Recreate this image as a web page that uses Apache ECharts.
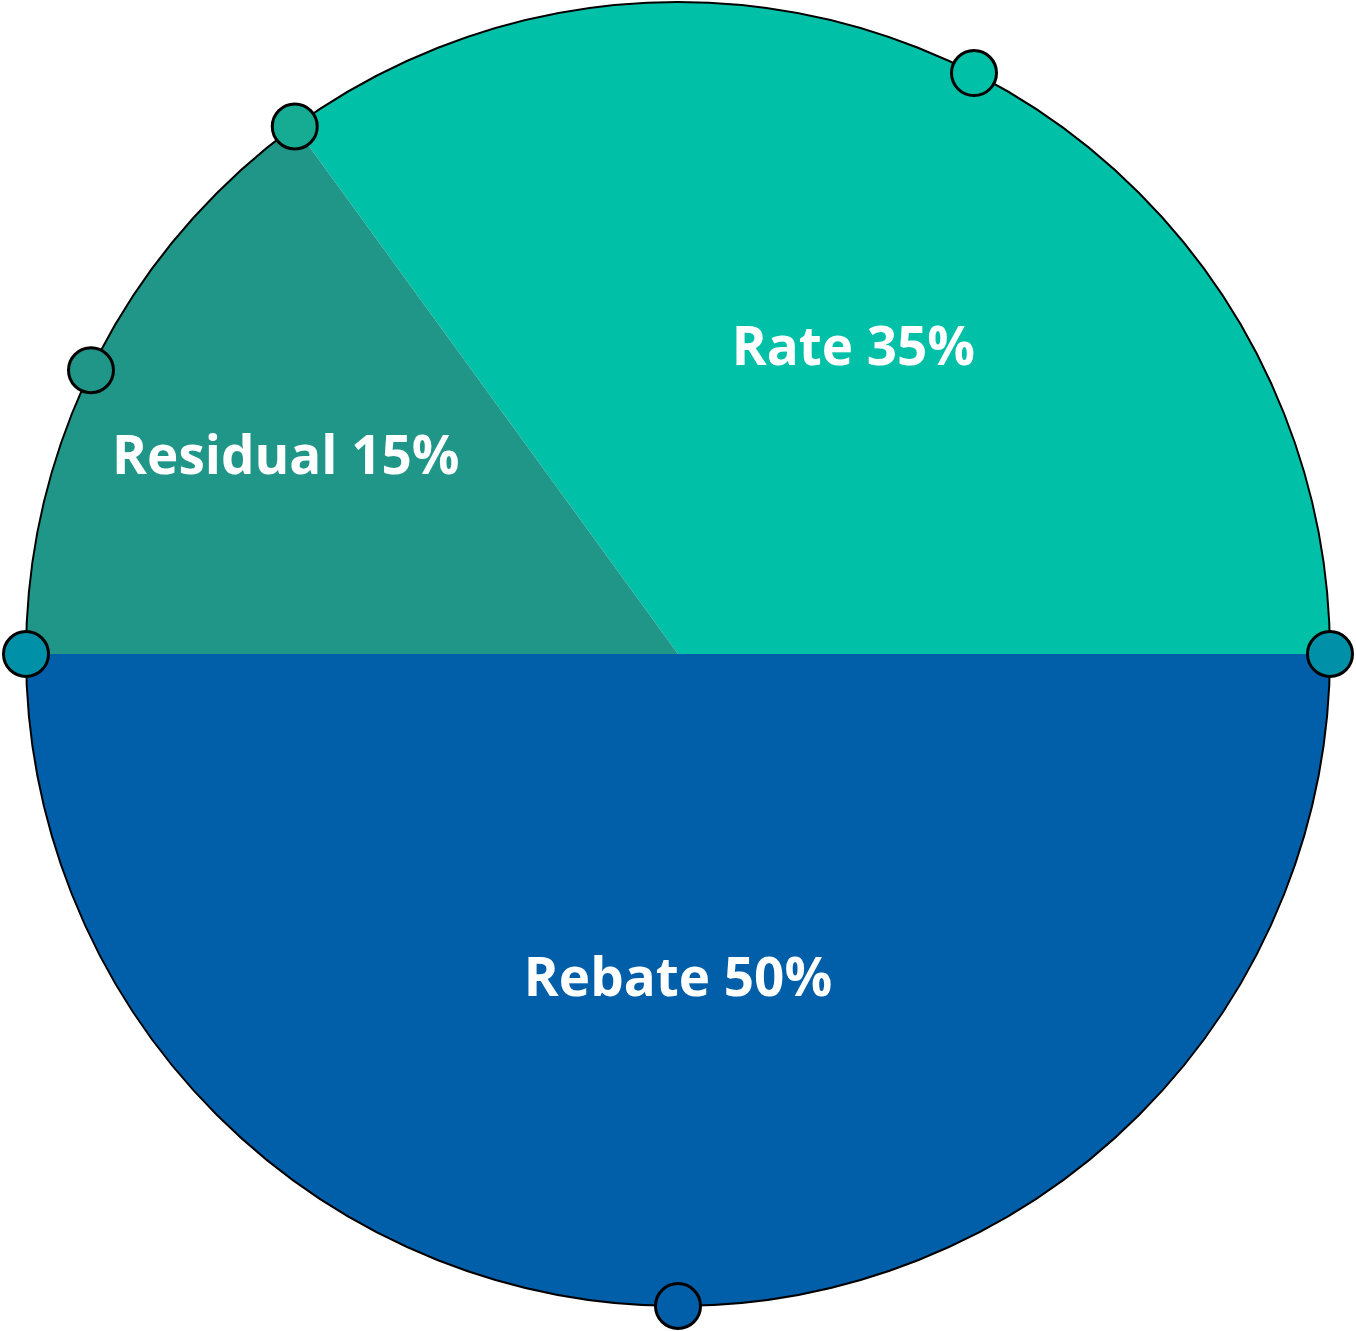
<!DOCTYPE html>
<html>
<head>
<meta charset="utf-8">
<script src="https://cdn.jsdelivr.net/npm/echarts@6/dist/echarts.min.js"></script>
<style>
  html, body { margin: 0; padding: 0; background: #fff; }
  #chart { width: 1356px; height: 1331px; }
</style>
</head>
<body>
<div id="chart"></div>
<script>
// slices, counter-clockwise from 3 o'clock
var sliceNames = ["Rate", "Residual", "Rebate"];
var sliceValues = [35, 15, 50];
var sliceColors = ["#00c0a8", "#1f9688", "#005fa8"];

// little handle dots round the rim (angle in degrees, ccw from east)
var dotAngles = [0, 63, 126, 154.2, 180, 270];
var dotColors = ["#0090a8", "#00c0a8", "#16ab93", "#1f9688", "#0090a8", "#005fa8"];

// nudges for the labels, px
var labelDx = [26, -99, 0];
var labelDy = [-11, -46, -2];

var cx = 678, cy = 654, R = 652;

var chart = echarts.init(document.getElementById("chart"));

var pieData = [];
for (var i = 0; i < sliceNames.length; i++) {
    pieData.push({
        name: sliceNames[i],
        value: sliceValues[i],
        itemStyle: { color: sliceColors[i] }
    });
}

var dotData = [];
for (var j = 0; j < dotAngles.length; j++) {
    dotData.push({
        value: [1, dotAngles[j]],
        itemStyle: { color: dotColors[j] }
    });
}

chart.setOption({
    animation: false,
    polar: { center: [cx, cy], radius: R },
    angleAxis: {
        type: "value",
        min: 0,
        max: 360,
        startAngle: 0,
        clockwise: false,
        z: 4,
        axisLine: { show: true, lineStyle: { color: "#000", width: 2 } },
        axisTick: { show: false },
        axisLabel: { show: false },
        splitLine: { show: false }
    },
    radiusAxis: {
        type: "value",
        min: 0,
        max: 1,
        axisLine: { show: false },
        axisTick: { show: false },
        axisLabel: { show: false },
        splitLine: { show: false }
    },
    series: [
        {
            type: "pie",
            center: [cx, cy],
            radius: [0, R],
            startAngle: 0,
            clockwise: false,
            silent: true,
            z: 2,
            itemStyle: { borderWidth: 0 },
            label: {
                show: true,
                position: "inside",
                color: "#fff",
                fontFamily: "Open Sans",
                fontWeight: "bold",
                fontSize: 53,
                formatter: function (p) { return p.name + " " + p.value + "%"; }
            },
            labelLine: { show: false },
            labelLayout: function (p) {
                return { dx: labelDx[p.dataIndex], dy: labelDy[p.dataIndex] };
            },
            data: pieData
        },
        {
            type: "scatter",
            coordinateSystem: "polar",
            symbol: "circle",
            symbolSize: 45,
            z: 6,
            silent: true,
            itemStyle: { borderColor: "#000", borderWidth: 3, opacity: 1 },
            data: dotData
        }
    ]
});
</script>
</body>
</html>
